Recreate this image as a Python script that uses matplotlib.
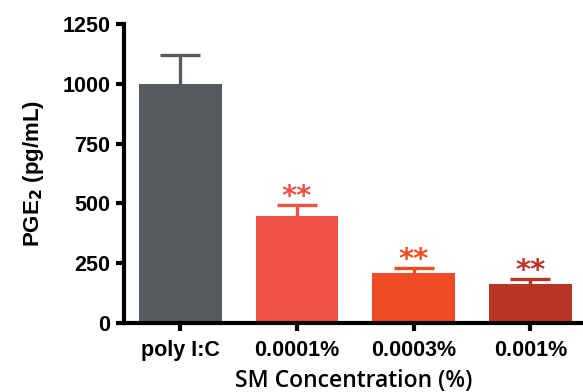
import matplotlib.pyplot as plt
import numpy as np

# values
groups = ["poly I:C", "0.0001%", "0.0003%", "0.001%"]
pge2 = [1000, 447, 209, 163]
sem = [120, 46, 21, 21]
bar_colors = ["#575b5e", "#ef5145", "#f04b25", "#b83526"]
stars = ["", "**", "**", "**"]
yticks = [0, 250, 500, 750, 1000, 1250]

fig = plt.figure(figsize=(5.83, 3.92), dpi=100)
ax = fig.add_axes([0.213, 0.176, 0.787, 0.763])

x = np.arange(len(groups))
ax.bar(x, pge2, width=0.71, color=bar_colors, zorder=2)
for i in range(len(groups)):
    eb = ax.errorbar(x[i], pge2[i], yerr=[[0], [sem[i]]], color=bar_colors[i],
                     capsize=14.5, capthick=2.4, elinewidth=2.4, fmt="none", zorder=1)
    eb[1][0].set_visible(False)  # hide the lower cap sitting on the bar top
    if stars[i]:
        ax.text(x[i], pge2[i] + sem[i] - 25, stars[i], ha="center", va="bottom",
                color=bar_colors[i], fontsize=21, fontweight="bold")

ax.set_ylim(0, 1250)
ax.set_xlim(-0.48, 3.45)
ax.set_yticks(yticks)
ax.set_xticks(x)
ax.set_xticklabels(groups)

for s in ["top", "right"]:
    ax.spines[s].set_visible(False)
for s in ["left", "bottom"]:
    ax.spines[s].set_linewidth(3)
ax.tick_params(width=3, length=6, labelsize=15.5)
ax.tick_params(axis="x", pad=6)
ax.tick_params(axis="y", pad=4)
for lab in ax.get_xticklabels() + ax.get_yticklabels():
    lab.set_fontweight("bold")
    lab.set_family("Liberation Sans")

ax.set_ylabel("PGE$_\\mathbf{2}$ (pg/mL)", fontsize=16, fontweight="bold",
              family="Liberation Sans", labelpad=12)
ax.set_xlabel("SM Concentration (%)", fontsize=16.5, family="Open Sans",
              fontweight="semibold", labelpad=6)

fig.savefig("out.png", dpi=100)
